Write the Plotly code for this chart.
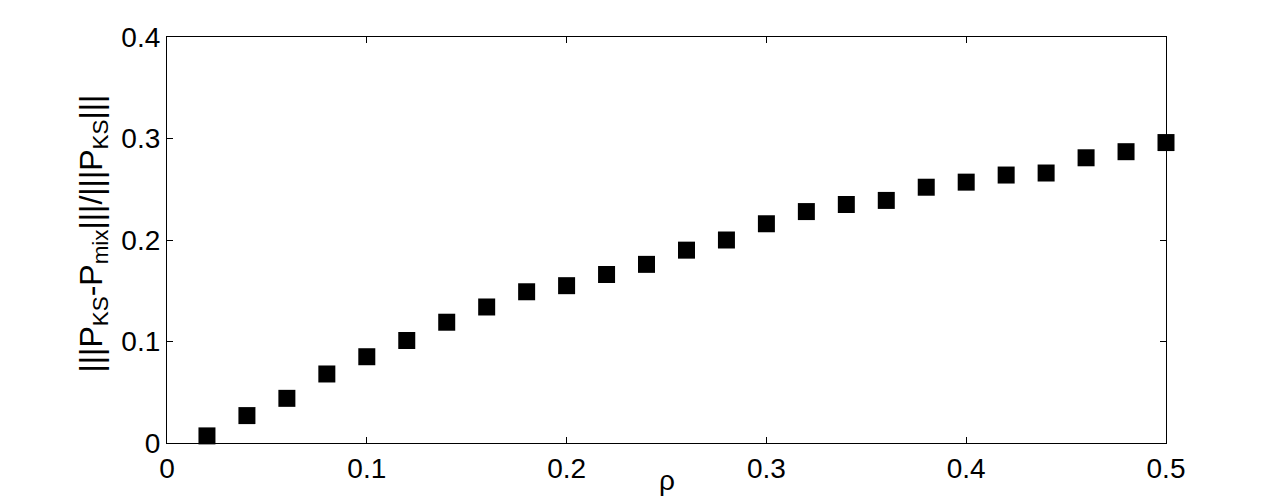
import plotly.graph_objects as go

rho = [0.02, 0.04, 0.06, 0.08, 0.10, 0.12, 0.14, 0.16, 0.18, 0.20, 0.22, 0.24, 0.26,
       0.28, 0.30, 0.32, 0.34, 0.36, 0.38, 0.40, 0.42, 0.44, 0.46, 0.48, 0.50]
rel_err = [0.007, 0.027, 0.044, 0.068, 0.085, 0.101, 0.119, 0.134, 0.149, 0.155, 0.166,
           0.176, 0.190, 0.200, 0.216, 0.228, 0.235, 0.239, 0.252, 0.257, 0.264, 0.266,
           0.281, 0.287, 0.296]
x_ticks = [0, 0.1, 0.2, 0.3, 0.4, 0.5]
x_tick_labels = ["0", "0.1", "0.2", "0.3", "0.4", "0.5"]
y_ticks = [0, 0.1, 0.2, 0.3, 0.4]
y_tick_labels = ["0", "0.1", "0.2", "0.3", "0.4"]
x_title = "ρ"
y_title = "|||P<sub>KS</sub>-P<sub>mix</sub>|||/|||P<sub>KS</sub>|||"

fig = go.Figure()
fig.add_trace(go.Scatter(
    x=rho, y=rel_err, mode="markers",
    marker=dict(symbol="square", size=17, color="black", line=dict(width=0)),
    cliponaxis=False, showlegend=False,
))

font = dict(family="Liberation Sans, Arial, sans-serif", size=28, color="black")
title_font = dict(family="Liberation Sans, Arial, sans-serif", size=32, color="black")
axis_common = dict(
    showgrid=False, zeroline=False, showline=True, linecolor="black", linewidth=1.2,
    mirror="ticks", ticks="inside", ticklen=6, tickwidth=1, tickcolor="black",
    tickfont=font, automargin=False,
)
fig.update_layout(
    width=1288, height=498,
    margin=dict(l=159, r=130, t=29, b=63),
    paper_bgcolor="white", plot_bgcolor="white",
    font=font,
    xaxis=dict(range=[0, 0.5], tickvals=x_ticks, ticktext=x_tick_labels, **axis_common),
    yaxis=dict(range=[0, 0.4], tickvals=y_ticks, ticktext=y_tick_labels, **axis_common),
    annotations=[
        dict(text=x_title, x=0.5, xref="paper", y=0, yref="paper",
             yshift=-37, yanchor="middle", showarrow=False, font=font),
        dict(text=y_title, x=0, xref="paper", y=0.5, yref="paper",
             xanchor="right", xshift=-52, yanchor="middle", yshift=6,
             textangle=-90, showarrow=False, font=title_font),
    ],
)
fig.write_html("out.html")
